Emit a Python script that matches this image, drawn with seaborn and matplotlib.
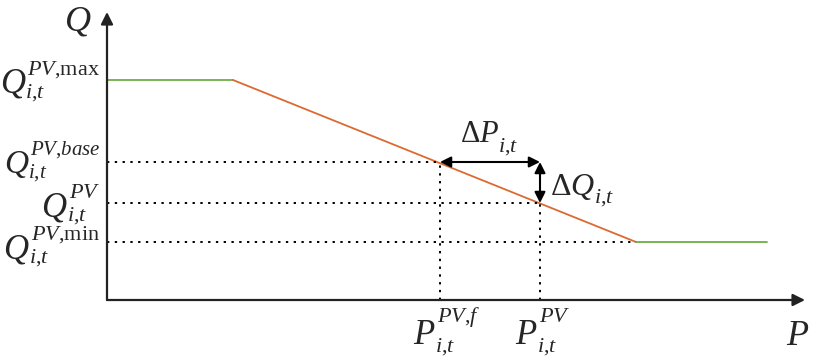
import numpy as np
import pandas as pd
import matplotlib
matplotlib.use('Agg')
import matplotlib.pyplot as plt
import matplotlib.transforms as mtransforms
import seaborn as sns

sns.set_theme(style='white')
plt.rcParams['font.family'] = ['Liberation Serif', 'DejaVu Serif']
plt.rcParams['mathtext.fontset'] = 'custom'
plt.rcParams['mathtext.rm'] = 'Liberation Serif'
plt.rcParams['mathtext.it'] = 'Liberation Serif:italic'
plt.rcParams['mathtext.bf'] = 'Liberation Serif:bold'

# Key points of the Q-P characteristic (arbitrary units)
p_knee = [1.26, 5.29]       # start / end of the sloped section
p_end = 6.60                # end of the lower plateau
q_max, q_min = 2.20, 0.58
p_f, p_pv = 3.33, 4.33      # P^{PV,f}, P^{PV}
q_base, q_pv = 1.38, 0.97   # Q^{PV,base}, Q^{PV}
axis_x_end, axis_y_end = 6.98, 2.88

green = '#70ad47'
orange = '#dc6a30'

fig = plt.figure(figsize=(8.13, 3.63), dpi=100)
ax = fig.add_axes([0, 0, 1, 1])
ax.set_xlim(-1.07, 7.06)
ax.set_ylim(-0.63, 3.00)
ax.axis('off')

# characteristic curve
flat_hi = pd.DataFrame({'P': [0, p_knee[0]], 'Q': [q_max, q_max]})
slope = pd.DataFrame({'P': p_knee, 'Q': [q_max, q_min]})
flat_lo = pd.DataFrame({'P': [p_knee[1], p_end], 'Q': [q_min, q_min]})
sns.lineplot(data=flat_hi, x='P', y='Q', color=green, lw=1.3, ax=ax)
sns.lineplot(data=slope, x='P', y='Q', color=orange, lw=1.3, ax=ax)
sns.lineplot(data=flat_lo, x='P', y='Q', color=green, lw=1.3, ax=ax)

# dotted guides
dot = dict(color='black', lw=1.4, linestyle=(0, (1.2, 2.8)))
ax.plot([0, p_f], [q_base, q_base], **dot)
ax.plot([0, p_pv], [q_pv, q_pv], **dot)
ax.plot([0, p_knee[1]], [q_min, q_min], **dot)
ax.plot([p_f, p_f], [0, q_base], **dot)
ax.plot([p_pv, p_pv], [0, q_pv], **dot)

# axes with arrows
ax.annotate('', xy=(axis_x_end, 0), xytext=(0, 0),
            arrowprops=dict(arrowstyle='-|>', color='#222222', lw=1.6,
                            mutation_scale=18, shrinkA=0, shrinkB=0))
ax.annotate('', xy=(0, axis_y_end), xytext=(0, 0),
            arrowprops=dict(arrowstyle='-|>', color='#222222', lw=1.6,
                            mutation_scale=18, shrinkA=0, shrinkB=0))

# delta arrows
ax.annotate('', xy=(p_pv, q_base), xytext=(p_f, q_base),
            arrowprops=dict(arrowstyle='<|-|>', color='black', lw=1.5,
                            mutation_scale=16, shrinkA=0, shrinkB=0))
ax.annotate('', xy=(p_pv, q_pv), xytext=(p_pv, q_base),
            arrowprops=dict(arrowstyle='<|-|>', color='black', lw=1.5,
                            mutation_scale=16, shrinkA=0, shrinkB=0))

# labels: main symbol with hand-placed sub/superscripts (smaller than mathtext's)
ident = mtransforms.IdentityTransform()
renderer = fig.canvas.get_renderer()


def width(t):
    return t.get_window_extent(renderer).width


def symbol(x, y, main, sub, sup=None, fs=25, fs_small=16, rise=18, drop=5,
           dy=0, ha='right'):
    # (x, y) in data units; dy = baseline offset below anchor in pixels
    bx, by = ax.transData.transform((x, y))
    by -= dy
    tm = ax.text(0, 0, main, fontsize=fs, transform=ident, va='baseline')
    tsub = ax.text(0, 0, sub, fontsize=fs_small, transform=ident, va='baseline')
    wm, wsub = width(tm), width(tsub)
    wsup = 0
    if sup:
        tsup = ax.text(0, 0, sup, fontsize=fs_small, transform=ident, va='baseline')
        wsup = width(tsup)
    total = wm + max(wsup + 1, wsub - 1)
    x0 = bx - total if ha == 'right' else bx
    tm.set_position((x0, by))
    tsub.set_position((x0 + wm - 1, by - drop))
    if sup:
        tsup.set_position((x0 + wm + 1, by + rise))


sub_it = r'$i{,}t$'
symbol(-0.07, q_max, r'$Q$', sub_it, r'$PV{,}\mathrm{max}$', dy=13)
symbol(-0.06, q_base, r'$Q$', sub_it, r'$PV{,}base$', fs=24, fs_small=15, dy=11)
symbol(-0.07, q_pv, r'$Q$', sub_it, r'$PV$', dy=13)
symbol(-0.07, q_min, r'$Q$', sub_it, r'$PV{,}\mathrm{min}$', dy=16)

symbol(p_f - 0.27, 0, r'$P$', sub_it, r'$PV{,}f$', dy=44, rise=22, drop=8, ha='left')
symbol(p_pv - 0.25, 0, r'$P$', sub_it, r'$PV$', dy=44, rise=22, drop=8, ha='left')

symbol(p_f + 0.20, q_base, r'$\Delta P$', sub_it, fs=22, dy=-20,
       drop=10, ha='left')
symbol(p_pv + 0.10, q_pv, r'$\Delta Q$', sub_it, fs=23, dy=-8,
       drop=8, ha='left')

ax.text(-0.29, 2.69, r'$Q$', fontsize=26, ha='center', va='baseline')
ax.text(6.91, -0.45, r'$P$', fontsize=26, ha='center', va='baseline')

fig.savefig('out.png', dpi=100, facecolor='white')
